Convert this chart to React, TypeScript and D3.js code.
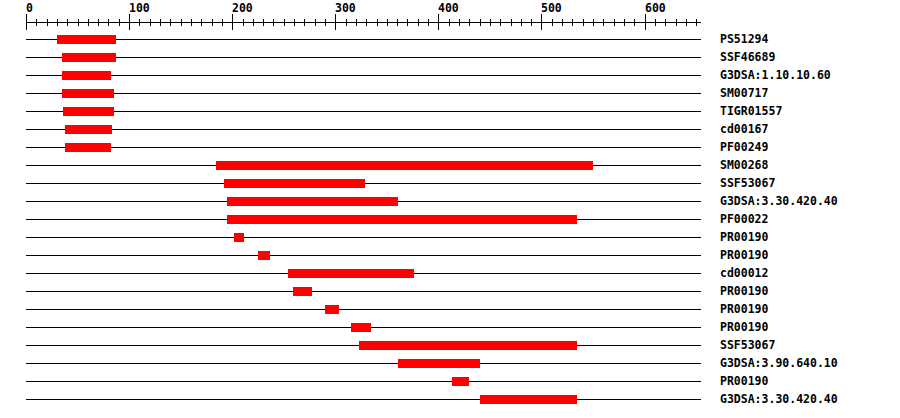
import React from "react";
import * as d3 from "d3";

const labels = [
  "PS51294", "SSF46689", "G3DSA:1.10.10.60", "SM00717", "TIGR01557", "cd00167", "PF00249",
  "SM00268", "SSF53067", "G3DSA:3.30.420.40", "PF00022", "PR00190", "PR00190", "cd00012",
  "PR00190", "PR00190", "PR00190", "SSF53067", "G3DSA:3.90.640.10", "PR00190", "G3DSA:3.30.420.40",
];
const starts = [30, 35, 35, 35, 36, 38, 38, 184, 192, 195, 195, 202, 225, 254, 259, 290, 315, 323, 361, 413, 440];
const ends = [87, 87, 82, 85, 85, 83, 82, 550, 329, 361, 534, 211, 237, 376, 277, 304, 335, 534, 440, 430, 534];
const majorTicks = [0, 100, 200, 300, 400, 500, 600];
const proteinLength = 655;

export default function App() {
  const W = 900, H = 418;
  const x = d3.scaleLinear().domain([0, proteinLength]).range([26, 701.3]);
  const rowY = (i: number) => 39 + i * 18;
  const minorTicks = d3.range(0, proteinLength + 1, 10);
  const font = "'DejaVu Sans Mono', monospace";
  return (
    <svg width={W} height={H} style={{ position: "absolute", left: 0, top: 0, background: "#fff" }}
      shapeRendering="crispEdges">
      <rect x={0} y={0} width={W} height={H} fill="#fff" />
      {/* axis */}
      <line x1={x(0)} x2={x(proteinLength)} y1={22.5} y2={22.5} stroke="#000" strokeWidth={1} />
      {minorTicks.map((t) => (
        <line key={"m" + t} x1={Math.round(x(t)) + 0.5} x2={Math.round(x(t)) + 0.5}
          y1={19} y2={26} stroke="#000" strokeWidth={1} />
      ))}
      {majorTicks.map((t) => (
        <g key={"M" + t}>
          <line x1={Math.round(x(t)) + 0.5} x2={Math.round(x(t)) + 0.5} y1={14} y2={30}
            stroke="#000" strokeWidth={1} />
          <text x={Math.round(x(t))} y={12} fontFamily={font} fontWeight="bold" fontSize={11.5}
            fill="#000">{t}</text>
        </g>
      ))}
      {/* rows */}
      {labels.map((lab, i) => {
        const y = rowY(i);
        return (
          <g key={i}>
            <line x1={x(0)} x2={x(proteinLength)} y1={y + 0.5} y2={y + 0.5} stroke="#000" strokeWidth={1} />
            <rect x={Math.round(x(starts[i]))} y={y - 4}
              width={Math.round(x(ends[i])) - Math.round(x(starts[i]))} height={9} fill="#ff0000" />
            <text x={720} y={y + 4} fontFamily={font} fontWeight="bold" fontSize={11.5} fill="#000">{lab}</text>
          </g>
        );
      })}
    </svg>
  );
}
